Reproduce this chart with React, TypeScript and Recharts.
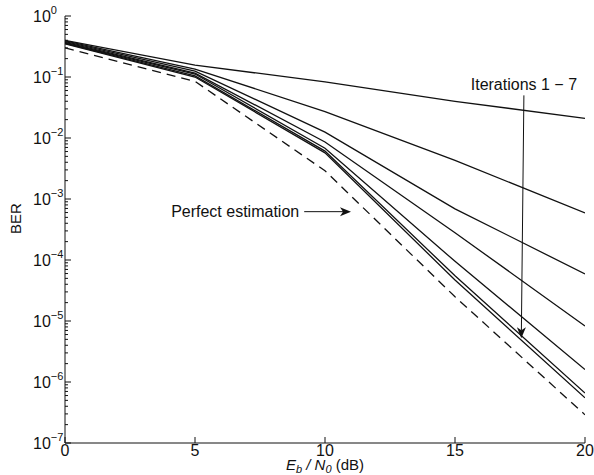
import React from "react";
import { LineChart, Line, XAxis, YAxis, ReferenceLine } from "recharts";

// Eb/N0 points (dB)
const snrDb = [0, 5, 10, 15, 20];

// BER per receiver iteration
const iter1 = [0.4, 0.157, 0.083, 0.04, 0.021];
const iter2 = [0.39, 0.135, 0.027, 0.0043, 0.00059];
const iter3 = [0.38, 0.125, 0.0125, 0.00069, 0.000059];
const iter4 = [0.37, 0.116, 0.0086, 0.00028, 0.0000083];
const iter5 = [0.36, 0.112, 0.0068, 0.000095, 0.0000016];
const iter6 = [0.355, 0.104, 0.0061, 0.000055, 0.00000066];
const iter7 = [0.35, 0.1, 0.0057, 0.000047, 0.00000055];
const perfect = [0.3, 0.085, 0.0029, 0.000025, 0.00000029];

const iterations = [iter1, iter2, iter3, iter4, iter5, iter6, iter7];

const xTicks = [0, 5, 10, 15, 20];
const yMajor = [1e-7, 1e-6, 1e-5, 1e-4, 1e-3, 1e-2, 1e-1, 1];
const yMinor = yMajor
  .slice(0, -1)
  .flatMap((d) => [2, 3, 4, 5, 6, 7, 8, 9].map((m) => m * d));
const yTicks = [...yMajor, ...yMinor].sort((a, b) => a - b);

// annotation anchors (data coordinates)
const iterArrow = { x1: 17.65, y1: 0.05, x2: 17.55, y2: 5.2e-6 };
const perfArrow = { x1: 9.2, y1: 6.2e-4, x2: 11.0, y2: 6.2e-4 };

const rows = snrDb.map((snr, i) => {
  const row: Record<string, number> = { snr, perfect: perfect[i] };
  iterations.forEach((s, k) => (row[`it${k + 1}`] = s[i]));
  return row;
});

const FONT = "'Liberation Sans', Arial, Helvetica, sans-serif";
const INK = "#111";

const isMajor = (v: number) => yMajor.includes(v);

function LeftTick(props: any) {
  const { x, y, payload } = props;
  const v = payload.value;
  const major = isMajor(v);
  const exp = Math.round(Math.log10(v));
  return (
    <g>
      <line x1={x} y1={y} x2={x + (major ? 6 : 3)} y2={y} stroke={INK} />
      {major && (
        <text x={x - 32} y={y + 6} fontSize={16} fontFamily={FONT} fill={INK}>
          10
          <tspan dy={-8} fontSize={11}>
            {exp < 0 ? `\u2212${-exp}` : `${exp}`}
          </tspan>
        </text>
      )}
    </g>
  );
}

function RightTick(props: any) {
  const { x, y, payload } = props;
  const major = isMajor(payload.value);
  return <line x1={x} y1={y} x2={x - (major ? 6 : 3)} y2={y} stroke={INK} />;
}

function BottomTick(props: any) {
  const { x, y, payload } = props;
  return (
    <g>
      <line x1={x} y1={y} x2={x} y2={y - 6} stroke={INK} />
      <text
        x={x}
        y={y + 13}
        textAnchor="middle"
        fontSize={16}
        fontFamily={FONT}
        fill={INK}
      >
        {payload.value}
      </text>
    </g>
  );
}

function TopTick(props: any) {
  const { x, y } = props;
  return <line x1={x} y1={y} x2={x} y2={y + 6} stroke={INK} />;
}

function XTitle(props: any) {
  const { x, y, width } = props.viewBox;
  return (
    <text
      x={x + width / 2}
      y={y + 27}
      textAnchor="middle"
      fontSize={15}
      fontFamily={FONT}
      fill={INK}
    >
      <tspan fontStyle="italic">E</tspan>
      <tspan fontStyle="italic" fontSize={11} dy={3}>
        b
      </tspan>
      <tspan fontStyle="italic" dy={-3}>
        {" / N"}
      </tspan>
      <tspan fontStyle="italic" fontSize={11} dy={3}>
        0
      </tspan>
      <tspan dy={-3}>{" (dB)"}</tspan>
    </text>
  );
}

function YTitle(props: any) {
  const { x, y, height } = props.viewBox;
  const cx = x + 15;
  const cy = y + height / 2 - 11;
  return (
    <text
      x={cx}
      y={cy}
      transform={`rotate(-90, ${cx}, ${cy})`}
      textAnchor="middle"
      dominantBaseline="central"
      fontSize={15}
      fontFamily={FONT}
      fill={INK}
    >
      BER
    </text>
  );
}

function arrowShape(text: string, where: "above" | "left") {
  return (props: any) => {
    const { x1, y1, x2, y2 } = props;
    const a = Math.atan2(y2 - y1, x2 - x1);
    const c = Math.cos(a);
    const s = Math.sin(a);
    const L = 11;
    const W = 4.5;
    const N = 3;
    const bx = x2 - L * c;
    const by = y2 - L * s;
    const nx = x2 - (L - N) * c;
    const ny = y2 - (L - N) * s;
    const head = [
      [x2, y2],
      [bx - W * s, by + W * c],
      [nx, ny],
      [bx + W * s, by - W * c],
    ]
      .map((p) => p.join(","))
      .join(" ");
    return (
      <g>
        <line x1={x1} y1={y1} x2={nx} y2={ny} stroke={INK} strokeWidth={1} />
        <polygon points={head} fill={INK} />
        {where === "above" ? (
          <text
            x={x1}
            y={y1 - 5}
            textAnchor="middle"
            fontSize={16}
            fontFamily={FONT}
            fill={INK}
          >
            {text}
          </text>
        ) : (
          <text
            x={x1 - 5}
            y={y1 + 5}
            textAnchor="end"
            fontSize={16}
            fontFamily={FONT}
            fill={INK}
          >
            {text}
          </text>
        )}
      </g>
    );
  };
}

export default function App() {
  return (
    <div style={{ position: "absolute", left: 0, top: 0, background: "#fff" }}>
      <LineChart
        width={594}
        height={475}
        data={rows}
        margin={{ top: 16, right: 9, bottom: 0, left: 0 }}
      >
        <XAxis
          xAxisId="b"
          dataKey="snr"
          type="number"
          domain={[0, 20]}
          ticks={xTicks}
          interval={0}
          height={32}
          tickSize={0}
          tickMargin={0}
          tickLine={false}
          tick={<BottomTick />}
          axisLine={{ stroke: INK }}
          label={(p: any) => <XTitle {...p} />}
          allowDataOverflow
        />
        <XAxis
          xAxisId="t"
          orientation="top"
          type="number"
          domain={[0, 20]}
          ticks={xTicks}
          interval={0}
          height={0}
          tickSize={0}
          tickMargin={0}
          tickLine={false}
          tick={<TopTick />}
          axisLine={{ stroke: INK }}
          allowDataOverflow
        />
        <YAxis
          yAxisId="l"
          scale="log"
          type="number"
          domain={[1e-7, 1]}
          ticks={yTicks}
          interval={0}
          width={65}
          tickSize={0}
          tickMargin={0}
          tickLine={false}
          tick={<LeftTick />}
          axisLine={{ stroke: INK }}
          label={(p: any) => <YTitle {...p} />}
          allowDataOverflow
        />
        <YAxis
          yAxisId="r"
          orientation="right"
          scale="log"
          type="number"
          domain={[1e-7, 1]}
          ticks={yTicks}
          interval={0}
          width={0}
          tickSize={0}
          tickMargin={0}
          tickLine={false}
          tick={<RightTick />}
          axisLine={{ stroke: INK }}
          allowDataOverflow
        />
        {iterations.map((_, k) => (
          <Line
            key={k}
            xAxisId="b"
            yAxisId="l"
            dataKey={`it${k + 1}`}
            type="linear"
            stroke={INK}
            strokeWidth={1.3}
            dot={false}
            isAnimationActive={false}
          />
        ))}
        <Line
          xAxisId="b"
          yAxisId="l"
          dataKey="perfect"
          type="linear"
          stroke={INK}
          strokeWidth={1.3}
          strokeDasharray="9 6"
          dot={false}
          isAnimationActive={false}
        />
        <ReferenceLine
          xAxisId="b"
          yAxisId="l"
          segment={[
            { x: iterArrow.x1, y: iterArrow.y1 },
            { x: iterArrow.x2, y: iterArrow.y2 },
          ]}
          ifOverflow="visible"
          shape={arrowShape("Iterations 1 \u2212 7", "above")}
        />
        <ReferenceLine
          xAxisId="b"
          yAxisId="l"
          segment={[
            { x: perfArrow.x1, y: perfArrow.y1 },
            { x: perfArrow.x2, y: perfArrow.y2 },
          ]}
          ifOverflow="visible"
          shape={arrowShape("Perfect estimation", "left")}
        />
      </LineChart>
    </div>
  );
}
